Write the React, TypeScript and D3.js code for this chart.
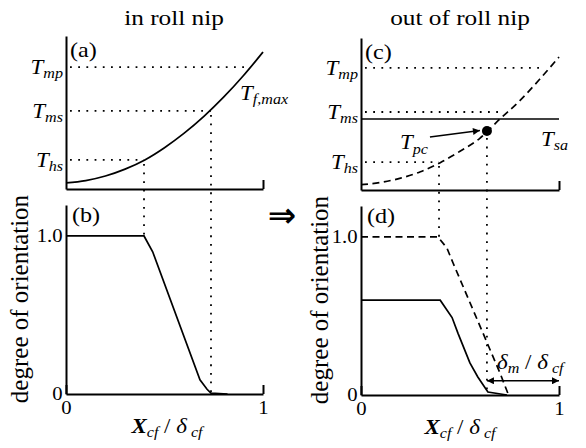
import React, { useEffect, useRef } from "react";
import * as d3 from "d3";

const W = 586;
const H = 448;
const FONT = "'Liberation Serif', 'Times New Roman', serif";
const SX = 1.15; // horizontal stretch of the lettering

// normalised position across the film, X_cf / δ_cf
const POS = [0, 0.1, 0.2, 0.3, 0.4, 0.5, 0.6, 0.7, 0.8, 0.9, 1];
// maximum film temperature T_f,max (normalised), in the nip
const T_FMAX_IN = [0.04, 0.055, 0.085, 0.13, 0.19, 0.27, 0.365, 0.475, 0.6, 0.74, 0.895];
// the same profile once the film has left the nip
const T_FMAX_OUT = [0.035, 0.05, 0.078, 0.12, 0.18, 0.255, 0.34, 0.465, 0.585, 0.725, 0.875];

// characteristic temperatures
const LEVEL_NAMES = ["mp", "ms", "hs"];
const LEVELS_IN = [0.797, 0.51, 0.19];
const LEVELS_OUT = [0.803, 0.513, 0.184];
const LEVEL_REACH_IN = [0.924, 0.736, 0.396];
const LEVEL_REACH_OUT = [0.92, 0.72, 0.394];
const T_SA = 0.467;
const PC_POS = 0.636;
const PC_T = 0.388;

// degree of orientation, panel (b)
const ORI_IN_X = [0, 0.396, 0.44, 0.68, 0.716, 0.736, 0.82];
const ORI_IN_Y = [1, 1, 0.9, 0.09, 0.03, 0.006, 0];
// panel (d): orientation carried out of the nip (dashed)
const ORI_REF_X = [0, 0.389, 0.434, 0.465, 0.616, 0.702, 0.745];
const ORI_REF_Y = [1, 1, 0.93, 0.835, 0.392, 0.139, 0];
// panel (d): orientation remaining after relaxation (solid)
const ORI_OUT_X = [0, 0.4, 0.46, 0.49, 0.55, 0.59, 0.641, 0.737];
const ORI_OUT_Y = [0.6, 0.6, 0.49, 0.39, 0.203, 0.114, 0.019, 0];

const DELTA_M_LEVEL = 0.09;

const zip = (xs: number[], ys: number[]) => xs.map((x, i) => [x, ys[i]] as [number, number]);

const xL = d3.scaleLinear().domain([0, 1]).range([66, 263]);
const xR = d3.scaleLinear().domain([0, 1]).range([361, 559]);
const tYL = d3.scaleLinear().domain([0, 1]).range([189, 36]);
const tYR = d3.scaleLinear().domain([0, 1]).range([190, 38]);
const oYL = d3.scaleLinear().domain([0, 1.196]).range([394, 205]);
const oYR = d3.scaleLinear().domain([0, 1.196]).range([395, 206]);

const DOT_H = "1.8 6.4";
const DOT_V = "1.8 6.8";
const DASH = "7 4.5";

function AxisG({ axis, transform, fontSize = 18 }: { axis: any; transform: string; fontSize?: number }) {
  const ref = useRef<SVGGElement>(null);
  useEffect(() => {
    const g = d3.select(ref.current as SVGGElement);
    g.selectAll("*").remove();
    g.call(axis);
    g.attr("font-family", FONT).attr("font-size", fontSize);
    g.select(".domain").attr("stroke-width", 2);
    g.selectAll(".tick line").attr("stroke-width", 2);
    g.selectAll(".tick text").attr("transform", `scale(${SX},1)`).attr("fill", "#000");
  });
  return <g ref={ref} transform={transform} />;
}

function Label({ x, y, size = 20, anchor = "start", italic = false, children }: any) {
  return (
    <text
      transform={`translate(${x},${y}) scale(${SX},1)`}
      fontSize={size}
      textAnchor={anchor}
      fontStyle={italic ? "italic" : "normal"}
      fontFamily={FONT}
      fill="#000"
    >
      {children}
    </text>
  );
}

function TempPanel({ x, y, curve, levels, reach, dashed, tag }: any) {
  const line = d3
    .line<[number, number]>()
    .x((d) => x(d[0]))
    .y((d) => y(d[1]))
    .curve(d3.curveMonotoneX);
  const x0 = x.range()[0];
  const yBottom = y.range()[0];
  const xAxis = d3.axisBottom(x).tickValues([1]).tickSize(-9).tickSizeOuter(0).tickFormat(() => "");
  const yAxis = d3.axisLeft(y).tickValues([]).tickSizeOuter(0);
  return (
    <g>
      {levels.map((v: number, i: number) => (
        <line
          key={i}
          x1={x0 + 4}
          x2={x(reach[i])}
          y1={y(v)}
          y2={y(v)}
          stroke="#000"
          strokeWidth={1.8}
          strokeDasharray={DOT_H}
        />
      ))}
      <path
        d={line(zip(POS, curve)) || ""}
        fill="none"
        stroke="#000"
        strokeWidth={1.7}
        strokeDasharray={dashed ? DASH : undefined}
      />
      <AxisG axis={yAxis} transform={`translate(${x0},0)`} />
      <AxisG axis={xAxis} transform={`translate(0,${yBottom})`} />
      {levels.map((v: number, i: number) => (
        <Label key={i} x={x0 - 3} y={y(v) + 7} anchor="end" italic>
          T<tspan fontSize={14} dy={4}>{LEVEL_NAMES[i]}</tspan>
        </Label>
      ))}
      <Label x={x0 + 4} y={y.range()[1] + 21} size={21}>
        {tag}
      </Label>
    </g>
  );
}

function OriPanel({ x, y, series, tag }: any) {
  const line = d3
    .line<[number, number]>()
    .x((d) => x(d[0]))
    .y((d) => y(d[1]));
  const x0 = x.range()[0];
  const yBottom = y.range()[0];
  const xAxis = d3
    .axisBottom(x)
    .tickValues([0, 1])
    .tickSize(-9)
    .tickSizeOuter(0)
    .tickPadding(7)
    .tickFormat((d: any) => d3.format("d")(d));
  const yAxis = d3
    .axisLeft(y)
    .tickValues([0, 1])
    .tickSize(0)
    .tickSizeOuter(0)
    .tickPadding(3)
    .tickFormat((d: any) => (d === 0 ? "0" : "1.0"));
  return (
    <g>
      {series.map((s: any, i: number) => (
        <path
          key={i}
          d={line(zip(s.x, s.y)) || ""}
          fill="none"
          stroke="#000"
          strokeWidth={1.7}
          strokeDasharray={s.dashed ? DASH : undefined}
        />
      ))}
      <AxisG axis={yAxis} transform={`translate(${x0},0)`} />
      <AxisG axis={xAxis} transform={`translate(0,${yBottom})`} />
      <Label x={x0 + 6} y={y.range()[1] + 17} size={21}>
        {tag}
      </Label>
    </g>
  );
}

function XLabel({ cx, y }: { cx: number; y: number }) {
  return (
    <Label x={cx} y={y} anchor="middle" size={20}>
      <tspan fontStyle="italic" fontWeight="bold">X</tspan>
      <tspan fontStyle="italic" fontSize={14} dy={4}>cf</tspan>
      <tspan dy={-4}> / </tspan>
      <tspan fontStyle="italic">δ</tspan>
      <tspan fontStyle="italic" fontSize={14} dy={4}> cf</tspan>
    </Label>
  );
}

export default function App() {
  const pcX = xR(PC_POS);
  const pcY = tYR(PC_T);
  return (
    <svg width={W} height={H} viewBox={`0 0 ${W} ${H}`} style={{ display: "block", position: "absolute", left: 0, top: 0, background: "#fff" }}>
      <defs>
        <marker
          id="head"
          viewBox="0 0 10 10"
          refX="10"
          refY="5"
          markerWidth="11"
          markerHeight="7"
          markerUnits="userSpaceOnUse"
          orient="auto-start-reverse"
        >
          <path d="M0,0 L10,5 L0,10 Z" fill="#000" />
        </marker>
      </defs>
      <rect width={W} height={H} fill="#fff" />

      {/* column titles */}
      <Label x={174} y={25} size={22} anchor="middle">in roll nip</Label>
      <Label x={460} y={25} size={22} anchor="middle">out of roll nip</Label>

      {/* (a) temperature in the nip */}
      <TempPanel x={xL} y={tYL} curve={T_FMAX_IN} levels={LEVELS_IN} reach={LEVEL_REACH_IN} tag="(a)" />
      <Label x={240} y={100} italic>
        T<tspan fontSize={14} dy={4}>f,max</tspan>
      </Label>

      {/* (c) temperature out of the nip */}
      <TempPanel x={xR} y={tYR} curve={T_FMAX_OUT} levels={LEVELS_OUT} reach={LEVEL_REACH_OUT} dashed tag="(c)" />
      <line x1={xR(0)} x2={xR(1)} y1={tYR(T_SA)} y2={tYR(T_SA)} stroke="#000" strokeWidth={1.7} />
      <Label x={541} y={146} italic>
        T<tspan fontSize={14} dy={4}>sa</tspan>
      </Label>
      <Label x={400} y={149} italic>
        T<tspan fontSize={14} dy={5}>pc</tspan>
      </Label>
      <line x1={pcX - 57} y1={pcY + 6} x2={pcX - 7} y2={pcY - 0.5} stroke="#000" strokeWidth={1.5} markerEnd="url(#head)" />
      <circle cx={pcX} cy={pcY} r={5} fill="#000" />

      {/* (b) orientation in the nip */}
      <OriPanel x={xL} y={oYL} series={[{ x: ORI_IN_X, y: ORI_IN_Y }]} tag="(b)" />

      {/* (d) orientation out of the nip */}
      <OriPanel
        x={xR}
        y={oYR}
        series={[
          { x: ORI_REF_X, y: ORI_REF_Y, dashed: true },
          { x: ORI_OUT_X, y: ORI_OUT_Y },
        ]}
        tag="(d)"
      />

      {/* projections between the temperature and orientation panels */}
      <line x1={xL(LEVEL_REACH_IN[2])} x2={xL(LEVEL_REACH_IN[2])} y1={tYL(LEVELS_IN[2]) + 4} y2={oYL(1)} stroke="#000" strokeWidth={1.8} strokeDasharray={DOT_V} />
      <line x1={xL(LEVEL_REACH_IN[1])} x2={xL(LEVEL_REACH_IN[1])} y1={tYL(LEVELS_IN[1]) + 4} y2={oYL(0) - 2} stroke="#000" strokeWidth={1.8} strokeDasharray={DOT_V} />
      <line x1={xR(LEVEL_REACH_OUT[2])} x2={xR(LEVEL_REACH_OUT[2])} y1={tYR(LEVELS_OUT[2]) + 4} y2={oYR(1)} stroke="#000" strokeWidth={1.8} strokeDasharray={DOT_V} />
      <line x1={pcX} x2={pcX} y1={pcY + 7} y2={oYR(0) - 2} stroke="#000" strokeWidth={1.8} strokeDasharray={DOT_V} />

      {/* relaxed layer thickness */}
      <line
        x1={xR(PC_POS)}
        x2={xR(1)}
        y1={oYR(DELTA_M_LEVEL)}
        y2={oYR(DELTA_M_LEVEL)}
        stroke="#000"
        strokeWidth={1.6}
        markerStart="url(#head)"
        markerEnd="url(#head)"
      />
      <Label x={497} y={369} size={20} italic>
        δ<tspan fontSize={14} dy={4}>m</tspan>
        <tspan dy={-4} fontStyle="normal"> / </tspan>δ<tspan fontSize={14} dy={4}> cf</tspan>
      </Label>

      {/* axis titles */}
      <text transform="translate(28,299) rotate(-90)" textAnchor="middle" fontSize={25} fontFamily={FONT}>
        degree of orientation
      </text>
      <text transform="translate(328,300) rotate(-90)" textAnchor="middle" fontSize={25} fontFamily={FONT}>
        degree of orientation
      </text>
      <XLabel cx={167} y={433} />
      <XLabel cx={460} y={434} />

      {/* in the nip ⇒ out of the nip */}
      <text x={282} y={227} fontSize={34} textAnchor="middle" fontFamily="'DejaVu Sans', sans-serif" fontWeight="bold">
        ⇒
      </text>
    </svg>
  );
}
